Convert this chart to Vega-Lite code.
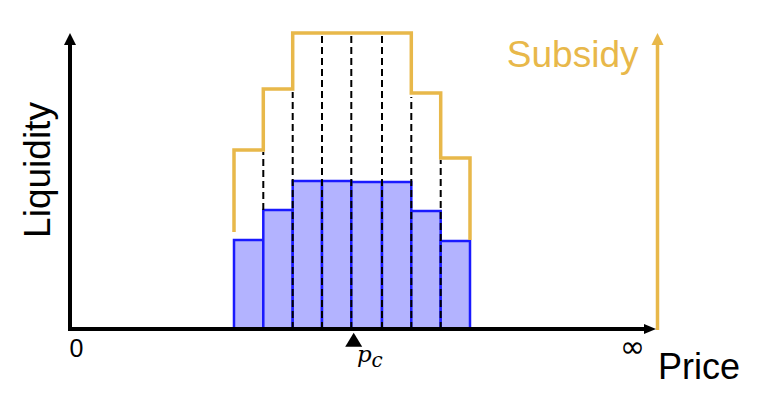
{
  "$schema": "https://vega.github.io/schema/vega-lite/v6.json",
  "width": 758,
  "height": 398,
  "padding": 0,
  "autosize": {"type": "fit", "contains": "padding"},
  "background": "white",
  "config": {"view": {"stroke": null}},
  "encoding": {
    "x": {"field": "x", "type": "quantitative", "scale": {"domain": [-70, 688], "nice": false, "zero": false}, "axis": null},
    "y": {"field": "y", "type": "quantitative", "scale": {"domain": [-69, 329], "nice": false, "zero": false}, "axis": null}
  },
  "layer": [
    {
      "data": {"values": [
        {"x": 164, "x2": 193.3, "y": 89, "y2": 0},
        {"x": 193.3, "x2": 222.7, "y": 119, "y2": 0},
        {"x": 222.7, "x2": 252, "y": 148, "y2": 0},
        {"x": 252, "x2": 281.3, "y": 148, "y2": 0},
        {"x": 281.3, "x2": 312, "y": 147, "y2": 0},
        {"x": 312, "x2": 341.3, "y": 147, "y2": 0},
        {"x": 341.3, "x2": 370.7, "y": 118, "y2": 0},
        {"x": 370.7, "x2": 400, "y": 88, "y2": 0}
      ]},
      "mark": {"type": "rect", "fill": "#b3b3ff", "stroke": "#1a1aff", "strokeWidth": 2.5},
      "encoding": {"x2": {"field": "x2"}, "y2": {"field": "y2"}}
    },
    {
      "data": {"values": [
        {"x": 193.3, "y": 119, "y2": 177},
        {"x": 222.7, "y": 0, "y2": 237},
        {"x": 252, "y": 0, "y2": 294},
        {"x": 281.3, "y": 0, "y2": 293},
        {"x": 312, "y": 0, "y2": 294},
        {"x": 341.3, "y": 0, "y2": 232},
        {"x": 370.7, "y": 0, "y2": 169}
      ]},
      "mark": {"type": "rule", "color": "black", "strokeWidth": 2, "strokeDash": [7, 4]},
      "encoding": {"y2": {"field": "y2"}}
    },
    {
      "data": {"values": [
        {"i": 1, "x": 164, "y": 97},
        {"i": 2, "x": 164, "y": 179},
        {"i": 3, "x": 193.3, "y": 179},
        {"i": 4, "x": 193.3, "y": 240},
        {"i": 5, "x": 222.7, "y": 240},
        {"i": 6, "x": 222.7, "y": 296},
        {"i": 7, "x": 341.3, "y": 296},
        {"i": 8, "x": 341.3, "y": 236},
        {"i": 9, "x": 370.7, "y": 236},
        {"i": 10, "x": 370.7, "y": 171},
        {"i": 11, "x": 400, "y": 171},
        {"i": 12, "x": 400, "y": 89}
      ]},
      "mark": {"type": "line", "color": "#e8b84a", "strokeWidth": 3.5, "strokeJoin": "miter", "strokeCap": "butt"},
      "encoding": {"order": {"field": "i", "type": "quantitative"}}
    },
    {
      "data": {"values": [
        {"x": 0, "y": 0, "x2": 0, "y2": 286},
        {"x": -2, "y": 0, "x2": 576, "y2": 0}
      ]},
      "mark": {"type": "rule", "color": "black", "strokeWidth": 4},
      "encoding": {"x2": {"field": "x2"}, "y2": {"field": "y2"}}
    },
    {
      "data": {"values": [
        {"x": 587.5, "y": -1, "x2": 587.5, "y2": 286}
      ]},
      "mark": {"type": "rule", "color": "#e8b84a", "strokeWidth": 3.5},
      "encoding": {"x2": {"field": "x2"}, "y2": {"field": "y2"}}
    },
    {
      "data": {"values": [{"x": 0, "y": 290}]},
      "mark": {"type": "point", "shape": "M0,-1L1,1L-1,1Z", "filled": true, "size": 144, "color": "black", "opacity": 1, "strokeWidth": 0}
    },
    {
      "data": {"values": [{"x": 587.5, "y": 290}]},
      "mark": {"type": "point", "shape": "M0,-1L1,1L-1,1Z", "filled": true, "size": 144, "color": "#e8b84a", "opacity": 1, "strokeWidth": 0}
    },
    {
      "data": {"values": [{"x": 580, "y": 0}]},
      "mark": {"type": "point", "shape": "M1,0L-1,0.85L-1,-0.85Z", "filled": true, "size": 144, "color": "black", "opacity": 1, "strokeWidth": 0}
    },
    {
      "data": {"values": [{"x": 283.7, "y": -10.7}]},
      "mark": {"type": "point", "shape": "M0,-0.82L1,0.82L-1,0.82Z", "filled": true, "size": 289, "color": "black", "opacity": 1, "strokeWidth": 0}
    },
    {
      "data": {"values": [{"x": 6.5, "y": -27.5, "t": "0"}]},
      "mark": {"type": "text", "font": "Liberation Sans", "fontSize": 25, "align": "center", "baseline": "alphabetic", "color": "black"},
      "encoding": {"text": {"field": "t"}}
    },
    {
      "data": {"values": [{"x": 562.5, "y": -28, "t": "∞"}]},
      "mark": {"type": "text", "font": "DejaVu Sans", "fontSize": 30, "align": "center", "baseline": "alphabetic", "color": "black"},
      "encoding": {"text": {"field": "t"}}
    },
    {
      "data": {"values": [{"x": 588, "y": -50, "t": "Price"}]},
      "mark": {"type": "text", "font": "Liberation Sans", "fontSize": 36, "align": "left", "baseline": "alphabetic", "color": "black"},
      "encoding": {"text": {"field": "t"}}
    },
    {
      "data": {"values": [{"x": -20, "y": 159, "t": "Liquidity"}]},
      "mark": {"type": "text", "font": "Liberation Sans", "fontSize": 37, "align": "center", "baseline": "alphabetic", "angle": 270, "color": "black"},
      "encoding": {"text": {"field": "t"}}
    },
    {
      "data": {"values": [{"x": 568.5, "y": 262.3, "t": "Subsidy"}]},
      "mark": {"type": "text", "font": "Liberation Sans", "fontSize": 37, "align": "right", "baseline": "alphabetic", "color": "#e8b84a"},
      "encoding": {"text": {"field": "t"}}
    },
    {
      "data": {"values": [{"x": 287, "y": -33, "t": "p"}]},
      "mark": {"type": "text", "font": "DejaVu Serif", "fontStyle": "italic", "fontSize": 23, "align": "left", "baseline": "alphabetic", "color": "black"},
      "encoding": {"text": {"field": "t"}}
    },
    {
      "data": {"values": [{"x": 301.5, "y": -37.7, "t": "c"}]},
      "mark": {"type": "text", "font": "DejaVu Serif", "fontStyle": "italic", "fontSize": 20, "align": "left", "baseline": "alphabetic", "color": "black"},
      "encoding": {"text": {"field": "t"}}
    }
  ]
}
